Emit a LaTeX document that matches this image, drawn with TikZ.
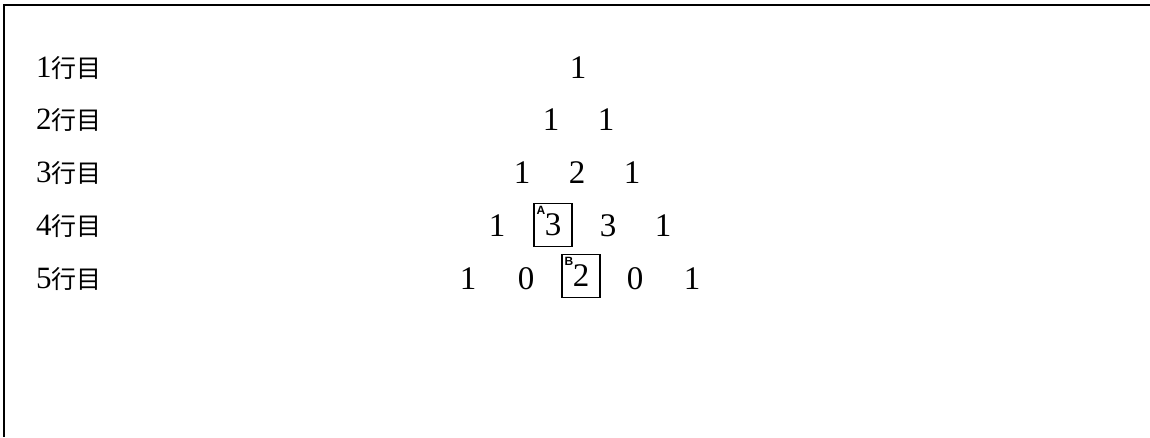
\documentclass[tikz,border=0pt]{standalone}
\usepackage{fontspec}
\setmainfont{Liberation Serif}
\newfontfamily\cjk{Noto Sans CJK JP}
\newfontfamily\tagfont{Liberation Sans}
\begin{document}
\begin{tikzpicture}[x=1pt,y=-1pt,
  lbl/.style={anchor=west,inner sep=0pt,font=\fontsize{31}{36}\selectfont},
  num/.style={inner sep=0pt,font=\fontsize{33}{38}\selectfont},
  boxnum/.style={draw,line width=1.4pt,minimum width=38pt,minimum height=43pt,inner sep=0pt,font=\fontsize{33}{38}\selectfont},
  tag/.style={inner sep=0pt,anchor=north west,font=\tagfont\bfseries\fontsize{12}{13}\selectfont}]
\useasboundingbox (0,0) rectangle (1150,437);
\coordinate (tl) at (4,5);
\coordinate (tr) at (1150,5);
\coordinate (bl) at (4,437);
\draw[line width=1.8pt] (tr) -- (tl) -- (bl);
% row labels
\foreach \r/\y in {1/68,2/120,3/173,4/226,5/279}{
  \node[lbl] (L\r) at (36,\y) {\r{\cjk\fontsize{25}{30}\selectfont 行目}};
}
% row 1
\node[num] (r1a) at (578,68) {1};
% row 2
\node[num] (r2a) at (551,120) {1};
\node[num] (r2b) at (606,120) {1};
% row 3
\node[num] (r3a) at (522,173) {1};
\node[num] (r3b) at (577,173) {2};
\node[num] (r3c) at (632,173) {1};
% row 4
\node[num] (r4a) at (497,226) {1};
\node[boxnum] (r4b) at (553,225) {\raisebox{-2pt}{3}};
\node[num] (r4c) at (608,226) {3};
\node[num] (r4d) at (663,226) {1};
\node[tag] (tA) at ([shift={(3pt,-3pt)}]r4b.north west) {A};
% row 5
\node[num] (r5a) at (468,279) {1};
\node[num] (r5b) at (526,279) {0};
\node[boxnum] (r5c) at (581,276) {\raisebox{-3pt}{2}};
\node[num] (r5d) at (635,279) {0};
\node[num] (r5e) at (692,279) {1};
\node[tag] (tB) at ([shift={(3pt,-3pt)}]r5c.north west) {B};
\end{tikzpicture}
\end{document}
